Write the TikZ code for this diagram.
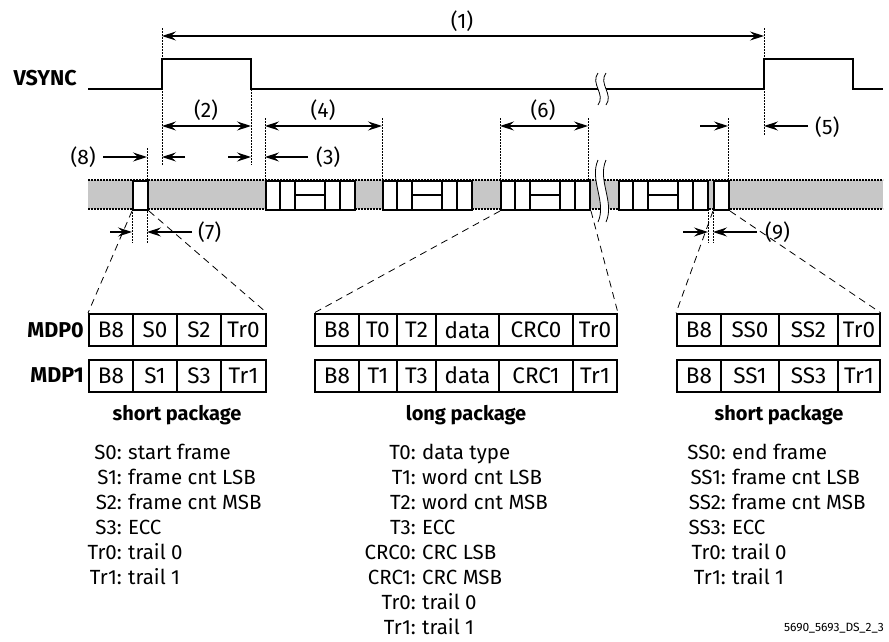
\documentclass[tikz,border=0pt]{standalone}
\usepackage{fontspec}
\setmainfont{Fira Sans}
\usetikzlibrary{arrows.meta}

\tikzset{
  sig/.style={line width=2.4pt, line join=miter},
  dimline/.style={line width=1.1pt},
  guide/.style={line width=0.6pt, dash pattern=on 1.5pt off 1.5pt},
  banddot/.style={line width=1.8pt, dash pattern=on 1.6pt off 1.4pt},
  pkt/.style={draw, fill=white, line width=2pt, inner sep=0pt, minimum height=29},
  pktline/.style={line width=2pt},
  cell/.style={draw, line width=2pt, inner sep=0pt, minimum height=32, font=\fontsize{22.5}{26}\selectfont},
  zoomline/.style={line width=0.8pt, dash pattern=on 7pt off 5pt},
  wave/.style={line width=0.8pt},
  num/.style={inner sep=0pt, font=\fontsize{21}{24}\selectfont},
  lkey/.style={anchor=base east, inner sep=0pt},
  ldesc/.style={anchor=base west, inner sep=0pt},
  capt/.style={anchor=base, inner sep=0pt, font=\fontsize{20}{24}\selectfont\bfseries},
  sigName/.style={anchor=east, inner sep=0pt, font=\fontsize{21.5}{24}\selectfont\bfseries}
}

\begin{document}
\begin{tikzpicture}[x=1pt, y=-1pt, font=\fontsize{20.5}{24}\selectfont,
    >={Stealth[length=14pt,width=9pt,inset=5pt]}]
  \useasboundingbox (0,0) rectangle (889,641);

  %% data lane (grey band)
  \fill[black!22] (88,180) rectangle (883,209);
  \draw[banddot] (88,180) -- (883,180);
  \draw[banddot] (88,209) -- (883,209);

  %% dotted guide lines
  \draw[guide] (162,28) -- (162,165);
  \draw[guide] (251,89) -- (251,165);
  \draw[guide] (764,28) -- (764,135);
  \foreach \gx in {265,382,500,588,728}
    \draw[guide] (\gx,118) -- (\gx,180);
  \draw[guide] (147,148) -- (147,243);
  \draw[guide] (132,209) -- (132,243);
  \draw[guide] (708,209) -- (708,243);
  \draw[guide] (713,209) -- (713,243);

  %% packets on the lane
  \node[pkt, minimum width=15, anchor=north west] (sp1) at (132,180) {};
  \node[pkt, minimum width=15, anchor=north west] (sp2) at (713,180) {};
  \foreach \s [count=\i] in {265,382,500,618}{
    \node[pkt, minimum width=89, anchor=north west] (lp\i) at (\s,180) {};
    \draw[pktline] (\s+15,180) -- (\s+15,209);
    \draw[pktline] (\s+30,180) -- (\s+30,209);
    \draw[pktline] (\s+60,180) -- (\s+60,209);
    \draw[pktline] (\s+75,180) -- (\s+75,209);
    \draw[pktline] (\s+30,194.5) -- (\s+60,194.5);
  }

  %% break on the lane
  \fill[white] (598,160) .. controls (589,180) and (607,202) .. (598,222)
    -- (606,222) .. controls (615,202) and (597,180) .. (606,160) -- cycle;
  \draw[wave] (598,160) .. controls (589,180) and (607,202) .. (598,222);
  \draw[wave] (606,160) .. controls (597,180) and (615,202) .. (606,222);

  %% VSYNC
  \node[sigName] (vs) at (77,78) {VSYNC};
  \draw[sig] (88,89) -- (162,89) -- (162,59) -- (251,59) -- (251,89) -- (764,89)
    -- (764,59) -- (853,59) -- (853,89) -- (883,89);
  \fill[white] (598,73) .. controls (590,84) and (606,94) .. (598,105)
    -- (606,105) .. controls (614,94) and (598,84) .. (606,73) -- cycle;
  \draw[wave] (598,73) .. controls (590,84) and (606,94) .. (598,105);
  \draw[wave] (606,73) .. controls (598,84) and (614,94) .. (606,105);

  %% timing marks
  \draw[dimline, <->] (162,36) -- (764,36);
  \node[num] (n1) at (462,21) {(1)};
  \draw[dimline, <->] (162,126) -- (251,126);
  \node[num] (n2) at (206,110) {(2)};
  \draw[dimline, <->] (265,126) -- (382,126);
  \node[num] (n4) at (323,110) {(4)};
  \draw[dimline, <->] (500,126) -- (588,126);
  \node[num] (n6) at (543,110) {(6)};
  \draw[dimline, ->] (700,126) -- (728,126);
  \draw[dimline, ->] (808,126) -- (764,126);
  \node[num, anchor=west] (n5) at (815,127) {(5)};
  \draw[dimline, ->] (103,157) -- (147,157);
  \node[num, anchor=east] (n8) at (96,157) {(8)};
  \draw[dimline, ->] (185,157) -- (162,157);
  \draw[dimline, ->] (228,157) -- (251,157);
  \draw[dimline, ->] (308,157) -- (265,157);
  \node[num, anchor=west] (n3) at (316,157) {(3)};
  \draw[dimline, ->] (110,232) -- (132,232);
  \draw[dimline, ->] (192,232) -- (147,232);
  \node[num, anchor=west] (n7) at (198,232) {(7)};
  \draw[dimline, ->] (683,232) -- (708,232);
  \draw[dimline, ->] (757,232) -- (713,232);
  \node[num, anchor=west] (n9) at (765,232) {(9)};

  %% MDP tables
  \node[sigName] (mdp0) at (84,330) {MDP0};
  \node[sigName] (mdp1) at (84,375.5) {MDP1};
  \foreach \a/\b/\t [count=\i] in {89/133/B8,133/177/S0,177/221/S2,221/266/Tr0}
    \node[cell, minimum width=\b-\a] (ta\i) at ({(\a+\b)/2},330) {\t};
  \foreach \a/\b/\t [count=\i] in {89/133/B8,133/177/S1,177/221/S3,221/266/Tr1}
    \node[cell, minimum width=\b-\a] (tb\i) at ({(\a+\b)/2},375.5) {\t};
  \foreach \a/\b/\t [count=\i] in {315/359/B8,359/397/T0,397/436/T2,436/499/data,499/573/CRC0,573/617/Tr0}
    \node[cell, minimum width=\b-\a] (tc\i) at ({(\a+\b)/2},330) {\t};
  \foreach \a/\b/\t [count=\i] in {315/359/B8,359/397/T1,397/436/T3,436/499/data,499/573/CRC1,573/617/Tr1}
    \node[cell, minimum width=\b-\a] (td\i) at ({(\a+\b)/2},375.5) {\t};
  \foreach \a/\b/\t [count=\i] in {677/721/B8,721/779/SS0,779/838/SS2,838/880/Tr0}
    \node[cell, minimum width=\b-\a] (te\i) at ({(\a+\b)/2},330) {\t};
  \foreach \a/\b/\t [count=\i] in {677/721/B8,721/779/SS1,779/838/SS3,838/880/Tr1}
    \node[cell, minimum width=\b-\a] (tf\i) at ({(\a+\b)/2},375.5) {\t};

  %% zoom lines from packets to tables
  \draw[zoomline] (sp1.south west) -- (ta1.north west);
  \draw[zoomline] (sp1.south east) -- (ta4.north east);
  \draw[zoomline] (lp3.south west) -- (tc1.north west);
  \draw[zoomline] (lp3.south east) -- (tc6.north east);
  \draw[zoomline] (sp2.south west) -- (te1.north west);
  \draw[zoomline] (sp2.south east) -- (te4.north east);

  %% captions
  \node[capt] (c1) at (177,420) {short package};
  \node[capt] (c2) at (466,420) {long package};
  \node[capt] (c3) at (779,420) {short package};

  %% legends
  \foreach \k/\t [count=\i] in {S0/start frame,S1/frame cnt LSB,S2/frame cnt MSB,S3/ECC,Tr0/trail 0,Tr1/trail 1}{
    \node[lkey] (sk\i) at (122,{434+25*\i}) {\k:};
    \node[ldesc] (sd\i) at (128,{434+25*\i}) {\t};
  }
  \foreach \k/\t [count=\i] in {T0/data type,T1/word cnt LSB,T2/word cnt MSB,T3/ECC,CRC0/CRC LSB,CRC1/CRC MSB,Tr0/trail 0,Tr1/trail 1}{
    \node[lkey] (lk\i) at (416,{434+25*\i}) {\k:};
    \node[ldesc] (ld\i) at (422,{434+25*\i}) {\t};
  }
  \foreach \k/\t [count=\i] in {SS0/end frame,SS1/frame cnt LSB,SS2/frame cnt MSB,SS3/ECC,Tr0/trail 0,Tr1/trail 1}{
    \node[lkey] (ek\i) at (726,{434+25*\i}) {\k:};
    \node[ldesc] (ed\i) at (732,{434+25*\i}) {\t};
  }

  \node[anchor=east, inner sep=0pt, font=\fontsize{12}{14}\selectfont] (fig) at (884,628) {5690\_5693\_DS\_2\_3};
\end{tikzpicture}
\end{document}
